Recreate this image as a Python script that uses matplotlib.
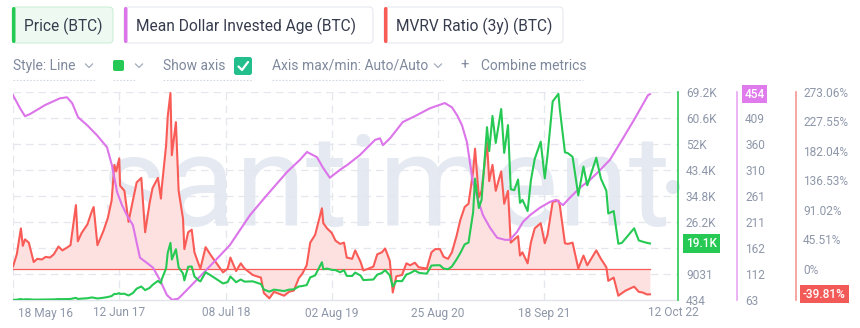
import matplotlib
matplotlib.use("Agg")
import matplotlib.pyplot as plt
import matplotlib.transforms as mtransforms
from matplotlib.patches import FancyBboxPatch, Circle
from matplotlib.lines import Line2D
import pandas as pd

plt.rcParams['font.family'] = ['Roboto', 'DejaVu Sans']

W, H, DPI = 860, 328, 100

# ---------------- data ----------------
price_dates = [
    "2016-05-18", "2016-06-01", "2016-06-16", "2016-06-23", "2016-07-01", "2016-07-15", "2016-08-02",
    "2016-08-15", "2016-09-01", "2016-09-15", "2016-10-01", "2016-10-15", "2016-11-01", "2016-11-15",
    "2016-12-01", "2016-12-15", "2017-01-04", "2017-01-11", "2017-01-25", "2017-02-15", "2017-03-03",
    "2017-03-10", "2017-03-24", "2017-04-15", "2017-05-01", "2017-05-15", "2017-05-25", "2017-06-01",
    "2017-06-12", "2017-06-15", "2017-07-01", "2017-07-16", "2017-08-01", "2017-08-15", "2017-09-01",
    "2017-09-15", "2017-10-01", "2017-10-12", "2017-11-01", "2017-11-12", "2017-11-15", "2017-12-01",
    "2017-12-07", "2017-12-17", "2017-12-22", "2018-01-06", "2018-01-16", "2018-02-01", "2018-02-06",
    "2018-02-20", "2018-03-05", "2018-03-15", "2018-04-01", "2018-04-06", "2018-04-25", "2018-05-15",
    "2018-06-01", "2018-06-28", "2018-07-15", "2018-07-25", "2018-08-15", "2018-09-01", "2018-09-15",
    "2018-10-15", "2018-11-14", "2018-11-25", "2018-12-15", "2019-01-01", "2019-02-07", "2019-02-25",
    "2019-03-15", "2019-04-02", "2019-04-15", "2019-05-01", "2019-05-14", "2019-06-01", "2019-06-26",
    "2019-07-01", "2019-07-15", "2019-08-01", "2019-08-15", "2019-09-01", "2019-09-15", "2019-09-25",
    "2019-10-15", "2019-10-26", "2019-11-15", "2019-11-25", "2019-12-15", "2020-01-01", "2020-01-15",
    "2020-02-01", "2020-02-13", "2020-03-01", "2020-03-12", "2020-03-25", "2020-04-15", "2020-05-01",
    "2020-05-15", "2020-06-01", "2020-06-15", "2020-07-01", "2020-07-15", "2020-08-01", "2020-08-15",
    "2020-09-01", "2020-09-15", "2020-10-01", "2020-10-15", "2020-11-01", "2020-11-15", "2020-12-01",
    "2020-12-15", "2021-01-01", "2021-01-08", "2021-01-22", "2021-02-01", "2021-02-21", "2021-03-01",
    "2021-03-13", "2021-03-25", "2021-04-14", "2021-04-25", "2021-05-09", "2021-05-19", "2021-06-01",
    "2021-06-15", "2021-06-22", "2021-07-01", "2021-07-20", "2021-08-01", "2021-08-15", "2021-09-06",
    "2021-09-21", "2021-10-01", "2021-10-20", "2021-11-10", "2021-11-15", "2021-12-04", "2021-12-15",
    "2022-01-01", "2022-01-22", "2022-02-10", "2022-02-24", "2022-03-29", "2022-04-15", "2022-05-05",
    "2022-05-12", "2022-06-01", "2022-06-18", "2022-07-01", "2022-07-15", "2022-08-15", "2022-09-01",
    "2022-09-15", "2022-10-01", "2022-10-12",
]
price_usd = [
    454, 537, 760, 580, 676, 664, 547,
    567, 573, 607, 615, 638, 729, 712,
    752, 780, 1150, 780, 895, 1010, 1280,
    1190, 935, 1180, 1420, 1740, 2450, 2400,
    2700, 2450, 2500, 1930, 2720, 4180, 4900,
    3700, 4400, 5400, 6750, 5950, 7300, 10900,
    16000, 19300, 13800, 17200, 11200, 9200, 6900,
    11400, 11500, 8200, 6800, 6600, 9600, 8500,
    7500, 5900, 6350, 8200, 6300, 7200, 6500,
    6600, 5700, 3900, 3200, 3850, 3400, 3850,
    3950, 4900, 5050, 5350, 7900, 8550, 12900,
    10600, 10800, 10400, 10300, 9600, 10300, 8400,
    8350, 9500, 8500, 7000, 7100, 7200, 8800,
    9350, 10300, 8550, 4900, 6700, 6650, 8850,
    9300, 10200, 9450, 9230, 9150, 11800, 11900,
    11900, 10800, 10600, 11500, 13800, 15950, 18800,
    19400, 29400, 40500, 30800, 33500, 57500, 49600,
    61200, 52300, 63500, 49000, 58200, 37000, 36700,
    40200, 32500, 33500, 29800, 39900, 47000, 52700,
    40600, 48200, 66000, 68500, 63600, 49200, 48900,
    47700, 35000, 44500, 38300, 47400, 40500, 36500,
    29000, 29800, 19000, 19300, 20800, 24100, 20100,
    19700, 19300, 19100,
]

mdia_dates = [
    "2016-05-18", "2016-06-13", "2016-07-01", "2016-07-19", "2016-09-12", "2016-11-06", "2016-12-02",
    "2016-12-21", "2017-01-12", "2017-02-14", "2017-03-22", "2017-04-28", "2017-05-16", "2017-06-04",
    "2017-06-22", "2017-07-10", "2017-08-01", "2017-08-27", "2017-09-22", "2017-10-14", "2017-11-08",
    "2017-12-04", "2017-12-23", "2018-01-14", "2018-01-28", "2018-02-27", "2018-04-04", "2018-05-22",
    "2018-07-23", "2018-10-05", "2018-12-06", "2019-02-18", "2019-04-06", "2019-05-02", "2019-06-08",
    "2019-06-30", "2019-07-25", "2019-08-31", "2019-09-26", "2019-11-12", "2020-01-07", "2020-01-25",
    "2020-02-05", "2020-03-02", "2020-04-18", "2020-06-01", "2020-07-26", "2020-09-19", "2020-10-15",
    "2020-11-03", "2020-11-21", "2020-12-09", "2020-12-31", "2021-01-19", "2021-02-06", "2021-03-04",
    "2021-03-30", "2021-04-28", "2021-05-16", "2021-06-11", "2021-07-03", "2021-07-29", "2021-09-03",
    "2021-10-10", "2021-11-01", "2021-11-27", "2021-12-22", "2022-01-28", "2022-03-06", "2022-04-01",
    "2022-05-18", "2022-07-05", "2022-08-18", "2022-10-05", "2022-10-12",
]
mdia_days = [
    452, 427, 412, 416, 433, 446, 448,
    437, 410, 395, 376, 353, 319, 268,
    243, 224, 205, 143, 133, 124, 101,
    72, 63, 65, 72, 88, 107, 133,
    167, 224, 262, 306, 329, 344, 334,
    314, 295, 310, 319, 338, 367, 370,
    357, 370, 401, 412, 427, 437, 429,
    414, 395, 363, 287, 253, 224, 200,
    181, 177, 177, 192, 211, 224, 238,
    249, 253, 243, 257, 276, 291, 304,
    329, 370, 408, 452, 454,
]

mvrv_dates = price_dates
mvrv_pct = [
    3, 22, 62, 35, 45, 40, 10,
    15, 14, 18, 17, 22, 34, 28,
    32, 36, 98, 42, 55, 68, 88,
    95, 36, 58, 78, 105, 160, 150,
    170, 128, 120, 72, 105, 133, 140,
    56, 100, 124, 140, 108, 125, 190,
    235, 271, 175, 226, 120, 77, 30,
    56, 60, 25, 5, 0, 33, 20,
    10, -6, 0, 17, -4, 8, 0,
    -10, -14, -38, -46, -36, -42, -36,
    -34, -15, -8, 5, 40, 52, 93,
    70, 62, 55, 43, 38, 40, 17,
    15, 28, 10, -3, 0, 3, 22,
    25, 31, 12, -37, -12, -10, 8,
    5, 9, 2, 1, 0, 25, 30,
    30, 18, 15, 25, 50, 75, 95,
    100, 150, 185, 110, 120, 195, 135,
    160, 120, 150, 100, 120, 40, 45,
    50, 20, 25, 8, 40, 62, 70,
    39, 52, 103, 105, 98, 39, 38,
    40, 0, 20, 5, 28, 15, 2,
    -19, -14, -42, -38, -34, -28, -36,
    -37, -40, -39.81,
]

date_ticks = ["2016-05-18", "2017-06-12", "2018-07-08", "2019-08-02",
              "2020-08-25", "2021-09-18", "2022-10-12"]
date_labels = ["18 May 16", "12 Jun 17", "08 Jul 18", "02 Aug 19",
               "25 Aug 20", "18 Sep 21", "12 Oct 22"]

# the tick that falls under each last-value badge is left unlabelled
price_ticks = [434, 9031, 17628, 26225, 34822, 43419, 52016, 60613, 69210]
price_labels = ["434", "9031", "", "26.2K", "34.8K", "43.4K", "52K", "60.6K", "69.2K"]
mdia_ticks = [62.6, 112.1, 161.6, 211.1, 260.6, 310.1, 359.6, 409.1, 458.6]
mdia_labels = ["63", "112", "162", "211", "261", "310", "360", "409", ""]
mvrv_ticks = [-45.51, 0, 45.51, 91.02, 136.53, 182.04, 227.55, 273.06]
mvrv_labels = ["", "0%", "45.51%", "91.02%", "136.53%", "182.04%", "227.55%", "273.06%"]

tab_names = ["Price (BTC)", "Mean Dollar Invested Age (BTC)", "MVRV Ratio (3y) (BTC)"]

# ---------------- style ----------------
GREEN = "#26C953"
PINK = "#DC74EA"
RED = "#F95B57"
FILL = "#FDE1E1"
GRID = "#E4E7EE"
LABEL = "#8E97A9"
TAB_TEXT = "#363C4E"
MENU_TEXT = "#7E899C"

fig = plt.figure(figsize=(W / DPI, H / DPI), dpi=DPI)
fig.patch.set_facecolor("white")


def px(x, y):
    """pixel position (from top-left) -> inches for dpi_scale_trans"""
    return x / DPI, (H - y) / DPI


def rbox(x0, y0, x1, y1, r=4, **kw):
    p = FancyBboxPatch(px(x0, y1), (x1 - x0) / DPI, (y1 - y0) / DPI,
                       boxstyle=f"round,pad=0,rounding_size={r / DPI}",
                       transform=fig.dpi_scale_trans, **kw)
    fig.patches.append(p)
    return p


def ftext(x, y, s, **kw):
    fig.text(x / W, 1 - y / H, s, **kw)


def fline(xs, ys, **kw):
    fig.lines.append(Line2D([x / W for x in xs], [1 - y / H for y in ys],
                            transform=fig.transFigure, **kw))


# ---------------- header: metric tabs ----------------
tabs = [(12, 113, GREEN, "#EEFAF1", "#CDEFD7"),
        (124, 373, PINK, "white", "#E6E8EE"),
        (384, 563, RED, "white", "#E6E8EE")]
for (x0, x1, col, face, edge), name in zip(tabs, tab_names):
    rbox(x0, 7, x1, 43, r=4, facecolor=face, edgecolor=edge, linewidth=0.8)
    rbox(x0, 7, x0 + 3.5, 43, r=1.7, facecolor=col, edgecolor="none")
    ftext(x0 + 12, 26, name, fontsize=11.2, color=TAB_TEXT, va="center", ha="left")

# ---------------- header: settings row ----------------
ROW_Y = 66
ftext(13, ROW_Y, "Style: Line", fontsize=10, color=MENU_TEXT, va="center")
rbox(113, 60, 124, 71, r=2, facecolor=GREEN, edgecolor="none")
ftext(163, ROW_Y, "Show axis", fontsize=10, color=MENU_TEXT, va="center")
rbox(234, 57, 252, 75, r=2.5, facecolor="#22BE8C", edgecolor="none")
fline([238.5, 242, 248], [66.5, 70, 62], color="white", linewidth=1.6,
      solid_capstyle="round", solid_joinstyle="round")
ftext(272, ROW_Y, "Axis max/min: Auto/Auto", fontsize=10, color=MENU_TEXT, va="center")
ftext(465, ROW_Y - 1, "+", fontsize=10.5, color=MENU_TEXT, va="center", ha="center")
ftext(481, ROW_Y, "Combine metrics", fontsize=10, color=MENU_TEXT, va="center")
for cx in (89, 139, 438):
    fline([cx - 3.5, cx, cx + 3.5], [ROW_Y - 2, ROW_Y + 1.5, ROW_Y - 2],
          color="#A3ACBC", linewidth=0.9)
for x0, x1 in ((13, 95), (113, 135), (163, 253), (272, 443), (462, 583)):
    fline([x0, x1], [79.5, 79.5], color="#D3D8E0", linewidth=0.8,
          linestyle=(0, (1.5, 1.5)))

# ---------------- watermark ----------------
fig.text(100 / W, 1 - 226 / H, "santiment", fontsize=92, color="#E5E9F1",
         ha="left", va="baseline", zorder=-5)
fig.patches.append(Circle(px(673, 187), 7 / DPI, transform=fig.dpi_scale_trans,
                          facecolor="#E3E7EF", edgecolor="none", zorder=-5))

# ---------------- chart area ----------------
x_start = pd.Timestamp(date_ticks[0])
x_end = pd.Timestamp(date_ticks[-1])
x_right = x_end + pd.Timedelta(days=103)

left, right, top, bottom = 13, 678, 91.7, 300
rect = [left / W, 1 - bottom / H, (right - left) / W, (bottom - top) / H]

ax_grid = fig.add_axes(rect, zorder=0)
ax_r = fig.add_axes(rect, zorder=1, sharex=ax_grid)
ax_p = fig.add_axes(rect, zorder=2, sharex=ax_grid)
ax_g = fig.add_axes(rect, zorder=3, sharex=ax_grid)

for a in (ax_grid, ax_r, ax_p, ax_g):
    a.patch.set_visible(False)
    for s in a.spines.values():
        s.set_visible(False)
    a.tick_params(axis="x", bottom=False, labelbottom=False)

ax_grid.set_xlim(x_start, x_right)
ax_grid.set_ylim(price_ticks[0], price_ticks[-1])
ax_grid.set_yticks([])
for t in price_ticks[1:]:
    ax_grid.axhline(t, color=GRID, linewidth=0.9, linestyle=(0, (6, 4)))
for d in date_ticks[:-1]:
    ax_grid.axvline(pd.Timestamp(d), color=GRID, linewidth=0.9, linestyle=(0, (6, 4)))
ax_grid.spines["bottom"].set_visible(True)
ax_grid.spines["bottom"].set_color("#E1E4EA")
ax_grid.spines["bottom"].set_linewidth(1)

# date labels under the axis
blend = mtransforms.blended_transform_factory(ax_grid.transData, ax_grid.transAxes)
for i, (d, lab) in enumerate(zip(date_ticks, date_labels)):
    if i == 0:
        ha, dx = "left", 5
    elif i == len(date_ticks) - 1:
        ha, dx = "left", -2
    else:
        ha, dx = "center", 0
    off = mtransforms.ScaledTranslation(dx / DPI, -13 / DPI, fig.dpi_scale_trans)
    ax_grid.text(pd.Timestamp(d), 0, lab, transform=blend + off, ha=ha, va="center",
                 fontsize=8.6, color=LABEL)

# MVRV (bottom layer)
mv_x = pd.to_datetime(mvrv_dates)
ax_r.set_ylim(-48.6, 273.06)
ax_r.fill_between(mv_x, mvrv_pct, 0, color=FILL, linewidth=0)
ax_r.axhline(0, color=RED, linewidth=0.9, xmin=0, xmax=(637 / 665))
ax_r.plot(mv_x, mvrv_pct, color=RED, linewidth=1.5)

# Mean Dollar Invested Age
ax_p.set_ylim(mdia_ticks[0], mdia_ticks[-1])
ax_p.plot(pd.to_datetime(mdia_dates), mdia_days, color=PINK, linewidth=1.5)

# Price
ax_g.set_ylim(price_ticks[0], price_ticks[-1])
ax_g.plot(pd.to_datetime(price_dates), price_usd, color=GREEN, linewidth=1.5)

# right-hand axes
axis_cfg = [
    (ax_g, 0, GREEN, price_ticks, price_labels, 8),
    (ax_p, 59, "#E9A6F2", mdia_ticks, mdia_labels, 8),
    (ax_r, 118, "#F39894", mvrv_ticks, mvrv_labels, 7),
]
for a, offset, col, ticks, labels, pad in axis_cfg:
    sp = a.spines["right"]
    sp.set_visible(True)
    sp.set_position(("outward", offset * 72 / DPI))
    sp.set_color(col)
    sp.set_linewidth(1.2)
    a.yaxis.set_ticks_position("right")
    a.set_yticks(ticks)
    a.set_yticklabels(labels)
    a.tick_params(axis="y", length=0, pad=pad * 72 / DPI, labelsize=8.6, labelcolor=LABEL)

# last-value badges
badges = [
    (ax_g, 701.5, price_usd[-1], f"{price_usd[-1] / 1000:.1f}K", GREEN),
    (ax_p, 754.5, mdia_days[-1], f"{mdia_days[-1]}", "#E07BEE"),
    (ax_r, 824.5, mvrv_pct[-1], f"{mvrv_pct[-1]:.2f}%", "#F25A57"),
]
for a, bx, val, txt, col in badges:
    tr = mtransforms.blended_transform_factory(fig.transFigure, a.transData)
    a.text(bx / W, val, txt, transform=tr, ha="center", va="center", fontsize=8.6,
           color="white", fontweight="medium", zorder=10, clip_on=False,
           bbox=dict(boxstyle="square,pad=0.22", facecolor=col, edgecolor="none"))

fig.savefig("out.png", dpi=DPI, facecolor="white")
